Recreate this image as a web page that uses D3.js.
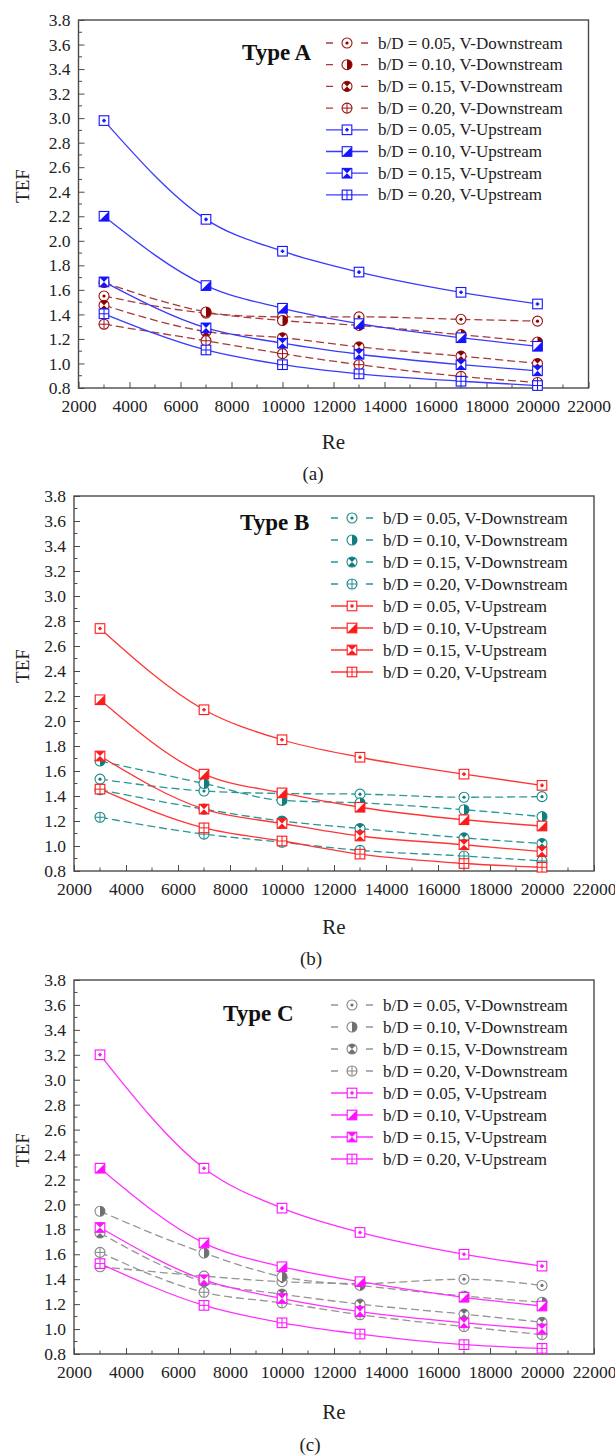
<!DOCTYPE html>
<html>
<head>
<meta charset="utf-8">
<script src="https://cdn.jsdelivr.net/npm/d3@7"></script>
<style>
  html, body { margin: 0; padding: 0; background: #fff; }
  svg { display: block; }
  svg text { font-family: "Liberation Serif", "Times New Roman", serif; }
</style>
</head>
<body>
<svg id="chart" width="615" height="1455"></svg>
<script>
// Reynolds numbers tested
const reValues = [3000, 7000, 10000, 13000, 17000, 20000];

// Axis ticks
const xTicks = [2000, 4000, 6000, 8000, 10000, 12000, 14000, 16000, 18000, 20000, 22000];
const yTicks = [0.8, 1.0, 1.2, 1.4, 1.6, 1.8, 2.0, 2.2, 2.4, 2.6, 2.8, 3.0, 3.2, 3.4, 3.6, 3.8];

// Legend entries (same order in every panel)
const seriesLabels = [
  "b/D = 0.05, V-Downstream",
  "b/D = 0.10, V-Downstream",
  "b/D = 0.15, V-Downstream",
  "b/D = 0.20, V-Downstream",
  "b/D = 0.05, V-Upstream",
  "b/D = 0.10, V-Upstream",
  "b/D = 0.15, V-Upstream",
  "b/D = 0.20, V-Upstream"
];

// TEF, Type A
const aDown05 = [1.55, 1.41, 1.38, 1.38, 1.36, 1.345];
const aDown10 = [1.66, 1.42, 1.35, 1.31, 1.235, 1.175];
const aDown15 = [1.475, 1.26, 1.21, 1.135, 1.06, 1.0];
const aDown20 = [1.32, 1.185, 1.08, 0.99, 0.895, 0.845];
const aUp05 = [2.98, 2.175, 1.915, 1.745, 1.58, 1.485];
const aUp10 = [2.20, 1.635, 1.45, 1.325, 1.21, 1.14];
const aUp15 = [1.665, 1.29, 1.165, 1.075, 0.99, 0.94];
const aUp20 = [1.405, 1.11, 0.99, 0.915, 0.855, 0.82];

// TEF, Type B
const bDown05 = [1.535, 1.44, 1.42, 1.415, 1.39, 1.395];
const bDown10 = [1.68, 1.50, 1.365, 1.345, 1.29, 1.235];
const bDown15 = [1.45, 1.295, 1.20, 1.14, 1.065, 1.02];
const bDown20 = [1.23, 1.095, 1.03, 0.965, 0.92, 0.88];
const bUp05 = [2.74, 2.09, 1.85, 1.71, 1.575, 1.485];
const bUp10 = [2.17, 1.575, 1.425, 1.31, 1.21, 1.16];
const bUp15 = [1.72, 1.295, 1.18, 1.08, 1.01, 0.955];
const bUp20 = [1.455, 1.145, 1.04, 0.935, 0.86, 0.83];

// TEF, Type C
const cDown05 = [1.50, 1.425, 1.38, 1.365, 1.40, 1.35];
const cDown10 = [1.945, 1.61, 1.42, 1.35, 1.265, 1.215];
const cDown15 = [1.77, 1.38, 1.28, 1.20, 1.12, 1.055];
const cDown20 = [1.615, 1.295, 1.21, 1.115, 1.02, 0.955];
const cUp05 = [3.20, 2.29, 1.97, 1.775, 1.60, 1.505];
const cUp10 = [2.29, 1.69, 1.50, 1.38, 1.255, 1.185];
const cUp15 = [1.815, 1.395, 1.245, 1.14, 1.05, 1.0];
const cUp20 = [1.525, 1.19, 1.05, 0.96, 0.875, 0.845];

const panels = [
  {
    title: "Type A", caption: "(a)",
    series: [aDown05, aDown10, aDown15, aDown20, aUp05, aUp10, aUp15, aUp20],
    downColor: "#9a1212", downLine: "#a83a3a", upColor: "#1414ff", upLine: "#3a3aff", downFill: "#8b0000",
    left: 78.5, right: 588.5, top: 20, bottom: 388,
    legendMarkX: 347, legendTextX: 378, legendY: 43, legendStep: 21.7,
    titleX: 242, titleY: 52, tefY: 186, reY: 442, capY: 473, capX: 313
  },
  {
    title: "Type B", caption: "(b)",
    series: [bDown05, bDown10, bDown15, bDown20, bUp05, bUp10, bUp15, bUp20],
    downColor: "#198a8a", downLine: "#2a9797", upColor: "#ff1a1a", upLine: "#ff3535", downFill: "#117d7d",
    left: 74, right: 594, top: 496, bottom: 871,
    legendMarkX: 352, legendTextX: 383, legendY: 518, legendStep: 22,
    titleX: 240, titleY: 522, tefY: 666, reY: 927, capY: 958, capX: 311
  },
  {
    title: "Type C", caption: "(c)",
    series: [cDown05, cDown10, cDown15, cDown20, cUp05, cUp10, cUp15, cUp20],
    downColor: "#858585", downLine: "#959595", upColor: "#ff10ff", upLine: "#ff30ff", downFill: "#707070",
    left: 74, right: 594, top: 980, bottom: 1354,
    legendMarkX: 352, legendTextX: 383, legendY: 1005, legendStep: 22,
    titleX: 223, titleY: 1013, tefY: 1150, reY: 1412, capY: 1444, capX: 310
  }
];

const svg = d3.select("#chart");
const serif = "Liberation Serif, Times New Roman, serif";

// Marker glyphs: downstream = circles, upstream = squares; index picks the inner pattern
function drawMarker(g, isUp, idx, stroke, fill) {
  const r = 5;
  if (!isUp) {
    g.append("circle").attr("r", r).attr("fill", "#fff").attr("stroke", stroke).attr("stroke-width", 1.1);
    if (idx === 0) {
      g.append("circle").attr("r", 1.6).attr("fill", fill);
    } else if (idx === 1) {
      g.append("path").attr("d", `M0,${-r} A${r},${r} 0 0 1 0,${r} Z`).attr("fill", fill);
    } else if (idx === 2) {
      const a = r * Math.SQRT1_2;
      g.append("path")
        .attr("d", `M0,0 L${-a},${-a} A${r},${r} 0 0 1 ${a},${-a} Z M0,0 L${a},${a} A${r},${r} 0 0 1 ${-a},${a} Z`)
        .attr("fill", fill);
    } else {
      g.append("path").attr("d", `M${-r},0 H${r} M0,${-r} V${r}`).attr("stroke", stroke).attr("stroke-width", 1);
    }
  } else {
    const s = 4.8;
    g.append("rect").attr("x", -s).attr("y", -s).attr("width", 2 * s).attr("height", 2 * s)
      .attr("fill", "#fff").attr("stroke", stroke).attr("stroke-width", 1.1);
    if (idx === 0) {
      g.append("path").attr("d", "M-1.8,0 H1.8 M0,-1.8 V1.8").attr("stroke", fill).attr("stroke-width", 1.6);
    } else if (idx === 1) {
      g.append("path").attr("d", `M${s},${-s} L${s},${s} L${-s},${s} Z`).attr("fill", fill);
    } else if (idx === 2) {
      g.append("path").attr("d", `M${-s},${-s} L${s},${-s} L0,0 Z M${-s},${s} L${s},${s} L0,0 Z`).attr("fill", fill);
    } else {
      g.append("path").attr("d", `M${-s},0 H${s} M0,${-s} V${s}`).attr("stroke", stroke).attr("stroke-width", 1);
    }
  }
}

panels.forEach(p => {
  const x = d3.scaleLinear().domain([2000, 22000]).range([p.left, p.right]);
  const y = d3.scaleLinear().domain([0.8, 3.8]).range([p.bottom, p.top]);
  const g = svg.append("g");

  // frame
  g.append("rect").attr("x", p.left).attr("y", p.top)
    .attr("width", p.right - p.left).attr("height", p.bottom - p.top)
    .attr("fill", "none").attr("stroke", "#4a4a4a").attr("stroke-width", 1.4);

  // bottom axis, ticks pointing inward
  const xAxis = d3.axisBottom(x).tickValues(xTicks).tickFormat(d3.format("d")).tickSize(-6).tickPadding(12);
  const xa = g.append("g").attr("transform", `translate(0,${p.bottom})`).call(xAxis);
  xa.attr("font-family", null).attr("font-size", null);
  xa.select(".domain").remove();
  xa.selectAll("line").attr("stroke", "#4a4a4a");
  xa.selectAll("text").style("font-family", serif).style("font-size", "17.5px").attr("fill", "#222");
  const xMinor = d3.range(3000, 22000, 2000);
  g.selectAll(null).data(xMinor).enter().append("line")
    .attr("x1", d => x(d)).attr("x2", d => x(d)).attr("y1", p.bottom).attr("y2", p.bottom - 3.5)
    .attr("stroke", "#4a4a4a");

  // left axis
  const yAxis = d3.axisLeft(y).tickValues(yTicks).tickFormat(d3.format(".1f")).tickSize(-6).tickPadding(8);
  const ya = g.append("g").attr("transform", `translate(${p.left},0)`).call(yAxis);
  ya.attr("font-family", null).attr("font-size", null);
  ya.select(".domain").remove();
  ya.selectAll("line").attr("stroke", "#4a4a4a");
  ya.selectAll("text").style("font-family", serif).style("font-size", "17.5px").attr("fill", "#222");
  const yMinor = d3.range(0.9, 3.8, 0.2);
  g.selectAll(null).data(yMinor).enter().append("line")
    .attr("x1", p.left).attr("x2", p.left + 3.5).attr("y1", d => y(d)).attr("y2", d => y(d))
    .attr("stroke", "#4a4a4a");

  // axis titles and caption
  g.append("text").attr("transform", `translate(22,${p.tefY}) rotate(-90)`)
    .attr("text-anchor", "middle").attr("dominant-baseline", "central")
    .style("font-size", "19px").attr("fill", "#222").text("TEF");
  g.append("text").attr("x", (p.left + p.right) / 2).attr("y", p.reY)
    .attr("text-anchor", "middle").attr("dominant-baseline", "central")
    .style("font-size", "21px").attr("fill", "#222").text("Re");
  g.append("text").attr("x", p.capX).attr("y", p.capY)
    .attr("text-anchor", "middle").attr("dominant-baseline", "central")
    .style("font-size", "19px").attr("fill", "#222").text(p.caption);

  // panel title
  g.append("text").attr("x", p.titleX).attr("y", p.titleY).attr("dominant-baseline", "central")
    .style("font-size", "23px").style("font-weight", "bold").attr("fill", "#111").text(p.title);

  const line = d3.line().x((d, i) => x(reValues[i])).y(d => y(d)).curve(d3.curveMonotoneX);

  // series: downstream (dashed) first, upstream (solid) on top
  p.series.forEach((vals, si) => {
    const isUp = si >= 4;
    const idx = si % 4;
    const lc = isUp ? p.upLine : p.downLine;
    const mc = isUp ? p.upColor : p.downColor;
    const fc = isUp ? p.upColor : p.downFill;
    g.append("path").datum(vals).attr("d", line)
      .attr("fill", "none").attr("stroke", lc).attr("stroke-width", 1.3)
      .attr("stroke-dasharray", isUp ? null : "8,4");
    vals.forEach((v, i) => {
      const m = g.append("g").attr("transform", `translate(${x(reValues[i])},${y(v)})`);
      drawMarker(m, isUp, idx, mc, fc);
    });
  });

  // legend
  seriesLabels.forEach((lab, si) => {
    const isUp = si >= 4;
    const idx = si % 4;
    const ly = p.legendY + si * p.legendStep;
    const lc = isUp ? p.upLine : p.downLine;
    const mc = isUp ? p.upColor : p.downColor;
    const fc = isUp ? p.upColor : p.downFill;
    if (isUp) {
      g.append("line").attr("x1", p.legendMarkX - 21).attr("x2", p.legendMarkX + 21)
        .attr("y1", ly).attr("y2", ly).attr("stroke", lc).attr("stroke-width", 1.3);
    } else {
      g.append("path").attr("d", `M${p.legendMarkX - 21},${ly} h7 M${p.legendMarkX + 14},${ly} h7`)
        .attr("stroke", lc).attr("stroke-width", 1.3);
    }
    const m = g.append("g").attr("transform", `translate(${p.legendMarkX},${ly})`);
    drawMarker(m, isUp, idx, mc, fc);
    g.append("text").attr("x", p.legendTextX).attr("y", ly).attr("dominant-baseline", "central")
      .style("font-size", "17px").attr("fill", "#222").text(lab);
  });
});
</script>
</body>
</html>
